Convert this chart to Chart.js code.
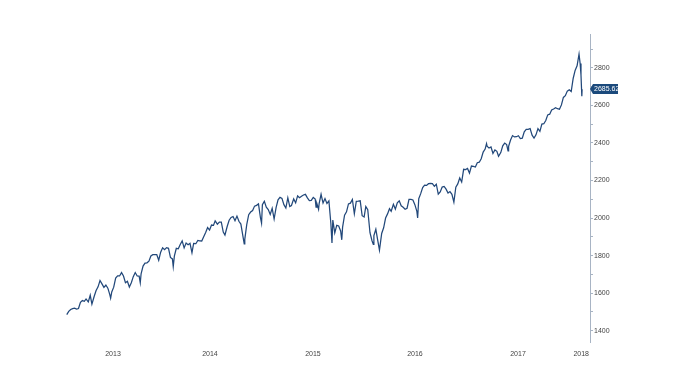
<!DOCTYPE html>
<html>
<head>
<meta charset="utf-8">
<script src="https://cdn.jsdelivr.net/npm/chart.js@4/dist/chart.umd.min.js"></script>
<style>
  html, body { margin: 0; padding: 0; background: #ffffff; }
  #wrap { width: 685px; height: 390px; }
</style>
</head>
<body>
<div id="wrap"><canvas id="c" width="685" height="390"></canvas></div>
<script>
// S&P 500 closes (mostly weekly, a few daily lows/highs)
const sp2013 = [
  ['01-18',1485.98],['01-25',1502.96],['02-01',1513.17],['02-08',1517.93],['02-15',1519.79],['02-22',1515.60],
  ['03-01',1518.20],['03-08',1551.18],['03-15',1560.70],['03-22',1556.89],['03-28',1569.19],['04-05',1553.28],
  ['04-12',1588.85],['04-18',1541.61],['04-26',1582.24],['05-03',1614.42],['05-10',1633.70],['05-17',1667.47],
  ['05-24',1649.60],['05-31',1630.74],['06-07',1643.38],['06-14',1626.73],['06-21',1592.43],['06-24',1573.09],
  ['06-28',1606.28],['07-05',1631.89],['07-12',1680.19],['07-19',1692.09],['07-26',1691.65],['08-02',1709.67],
  ['08-09',1691.42],['08-16',1655.83],['08-23',1663.50],['08-30',1632.97],['09-06',1655.17],['09-13',1687.99],
  ['09-20',1709.91],['09-27',1691.75],['10-04',1690.50],['10-08',1655.45],['10-11',1703.20],['10-18',1744.50],
  ['10-25',1759.77],['11-01',1761.64],['11-08',1770.61],['11-15',1798.18],['11-22',1804.76],['11-29',1805.81],
  ['12-06',1805.09],['12-13',1775.32],['12-20',1818.32],['12-27',1841.40]
];
const sp2014 = [
  ['01-03',1831.37],['01-10',1842.37],['01-17',1838.70],['01-24',1790.29],['01-31',1782.59],['02-03',1741.89],
  ['02-07',1797.02],['02-14',1838.63],['02-21',1836.25],['02-28',1859.45],['03-07',1878.04],['03-14',1841.13],
  ['03-21',1866.52],['03-28',1857.62],['04-04',1865.09],['04-11',1815.69],['04-17',1864.85],['04-25',1863.40],
  ['05-02',1881.14],['05-09',1878.48],['05-16',1877.86],['05-23',1900.53],['05-30',1923.57],['06-06',1949.44],
  ['06-13',1936.16],['06-20',1962.87],['06-27',1960.96],['07-03',1985.44],['07-11',1967.57],['07-18',1978.22],
  ['07-25',1978.34],['08-01',1925.15],['08-07',1909.57],['08-15',1955.06],['08-22',1988.40],['08-29',2003.37],
  ['09-05',2007.71],['09-12',1985.54],['09-19',2010.40],['09-26',1982.85],['10-03',1967.90],['10-10',1906.13],
  ['10-15',1862.49],['10-17',1886.76],['10-24',1964.58],['10-31',2018.05],['11-07',2031.92],['11-14',2039.82],
  ['11-21',2063.50],['11-28',2067.56],['12-05',2075.37],['12-12',2002.33],['12-16',1972.74],['12-19',2070.65],
  ['12-26',2088.77]
];
const sp2015 = [
  ['01-02',2058.20],['01-09',2044.81],['01-16',2019.42],['01-23',2051.82],['01-30',1994.99],['02-06',2055.47],
  ['02-13',2096.99],['02-20',2110.30],['02-27',2104.50],['03-06',2071.26],['03-13',2053.40],['03-20',2108.10],
  ['03-27',2061.02],['04-02',2066.96],['04-10',2102.06],['04-17',2081.18],['04-24',2117.69],['05-01',2108.29],
  ['05-08',2116.10],['05-15',2122.73],['05-22',2126.06],['05-29',2107.39],['06-05',2092.83],['06-12',2094.11],
  ['06-19',2109.99],['06-26',2101.49],['06-29',2057.64],['07-02',2076.78],['07-08',2046.68],['07-10',2076.62],
  ['07-17',2126.64],['07-24',2079.65],['07-31',2103.84],['08-07',2077.57],['08-14',2091.54],['08-21',1970.89],
  ['08-25',1867.61],['08-28',1988.87],['09-04',1921.22],['09-11',1961.05],['09-18',1958.03],['09-25',1931.34],
  ['09-29',1884.09],['10-02',1951.36],['10-09',2014.89],['10-16',2033.11],['10-23',2075.15],['10-30',2079.36],
  ['11-06',2099.20],['11-13',2023.04],['11-20',2089.17],['11-27',2090.11],['12-04',2091.69],['12-11',2012.37],
  ['12-18',2005.55],['12-24',2060.99],['12-31',2043.94]
];
const sp2016 = [
  ['01-08',1922.03],['01-15',1880.33],['01-20',1859.33],['01-22',1906.90],['01-29',1940.24],['02-05',1880.05],
  ['02-11',1829.08],['02-19',1917.78],['02-26',1948.05],['03-04',1999.99],['03-11',2022.19],['03-18',2049.58],
  ['03-24',2035.94],['04-01',2072.78],['04-08',2047.60],['04-15',2080.73],['04-22',2091.58],['04-29',2065.30],
  ['05-06',2057.14],['05-13',2046.61],['05-20',2052.32],['05-27',2099.06],['06-03',2099.13],['06-10',2096.07],
  ['06-17',2071.22],['06-24',2037.41],['06-27',2000.54],['07-01',2102.95],['07-08',2129.90],['07-15',2161.74],
  ['07-22',2175.03],['07-29',2173.60],['08-05',2182.87],['08-12',2184.05],['08-19',2183.87],['08-26',2169.04],
  ['09-02',2179.98],['09-09',2127.81],['09-16',2139.16],['09-23',2164.69],['09-30',2168.27],['10-07',2153.74],
  ['10-14',2132.98],['10-21',2141.16],['10-28',2126.41],['11-04',2085.18],['11-11',2164.45],['11-18',2181.90],
  ['11-25',2213.35],['12-02',2191.95],['12-09',2259.53],['12-16',2258.07],['12-23',2263.79],['12-30',2238.83]
];
const sp2017 = [
  ['01-06',2276.98],['01-13',2274.64],['01-20',2271.31],['01-27',2294.69],['02-03',2297.42],['02-10',2316.10],
  ['02-17',2351.16],['02-24',2367.34],['03-01',2395.96],['03-03',2383.12],['03-10',2372.60],['03-17',2378.25],
  ['03-24',2343.98],['03-31',2362.72],['04-07',2355.54],['04-13',2328.95],['04-21',2348.69],['04-28',2384.20],
  ['05-05',2399.29],['05-12',2390.90],['05-17',2357.03],['05-19',2381.73],['05-26',2415.82],['06-02',2439.07],
  ['06-09',2431.77],['06-16',2433.15],['06-23',2438.30],['06-30',2423.41],['07-07',2425.18],['07-14',2459.27],
  ['07-21',2472.54],['07-28',2472.10],['08-04',2476.83],['08-11',2441.32],['08-18',2425.55],['08-25',2443.05],
  ['09-01',2476.55],['09-08',2461.43],['09-15',2500.23],['09-22',2502.22],['09-29',2519.36],['10-06',2549.33],
  ['10-13',2553.17],['10-20',2575.21],['10-27',2581.07],['11-03',2587.84],['11-10',2582.30],['11-17',2578.85],
  ['11-24',2602.42],['12-01',2642.22],['12-08',2651.50],['12-15',2675.81],['12-22',2683.34],['12-29',2673.61]
];
const sp2018 = [
  ['01-05',2743.15],['01-12',2786.24],['01-19',2810.30],['01-26',2872.87],['01-30',2822.43],['02-02',2762.13],
  ['02-05',2648.94],['02-06',2685.62]
];
const lastLabel = '2685.62';
const yTickValues = [1400,1500,1600,1700,1800,1900,2000,2100,2200,2300,2400,2500,2600,2700,2800,2900];
const xTickYears = [2013, 2014, 2015, 2016, 2017, 2018];
const xTickPositions = [2013.5, 2014.45, 2015.46, 2016.46, 2017.47, 2018.09];

function toYear(year, md) {
  const [m, d] = md.split('-').map(Number);
  const t = Date.UTC(year, m - 1, d);
  const s = Date.UTC(year, 0, 1);
  const e = Date.UTC(year + 1, 0, 1);
  return year + (t - s) / (e - s);
}
const series = [[2013, sp2013], [2014, sp2014], [2015, sp2015], [2016, sp2016], [2017, sp2017], [2018, sp2018]];
const points = [];
series.forEach(([yr, arr]) => arr.forEach(([md, v]) => points.push({ x: toYear(yr, md), y: v })));

const lastValuePlugin = {
  id: 'lastValue',
  afterDraw(chart) {
    const ctx = chart.ctx;
    const ys = chart.scales.y;
    const last = points[points.length - 1];
    const py = Math.round(ys.getPixelForValue(last.y));
    const x0 = chart.chartArea.right + 2;
    const w = 26, h = 10;
    ctx.save();
    ctx.fillStyle = '#1b4a7c';
    ctx.beginPath();
    ctx.moveTo(x0 - 2, py);
    ctx.lineTo(x0 + 1, py - h / 2);
    ctx.lineTo(x0 + w, py - h / 2);
    ctx.lineTo(x0 + w, py + h / 2);
    ctx.lineTo(x0 + 1, py + h / 2);
    ctx.closePath();
    ctx.fill();
    ctx.fillStyle = '#ffffff';
    ctx.font = '7px "Liberation Sans", Arial, sans-serif';
    ctx.textBaseline = 'middle';
    ctx.textAlign = 'left';
    ctx.fillText(lastLabel, x0 + 2, py + 0.5);
    ctx.restore();
  }
};

new Chart(document.getElementById('c'), {
  type: 'line',
  data: {
    datasets: [{
      data: points,
      borderColor: '#22487a',
      borderWidth: 1.25,
      pointRadius: 0,
      tension: 0,
      fill: false
    }]
  },
  options: {
    responsive: false,
    animation: false,
    layout: { padding: { left: 21, top: 34, right: 0, bottom: 0 } },
    plugins: { legend: { display: false }, tooltip: { enabled: false } },
    scales: {
      x: {
        type: 'linear',
        min: 2012.598,
        max: 2018.176,
        grid: { display: false, drawTicks: false },
        border: { display: false },
        afterBuildTicks(scale) { scale.ticks = xTickPositions.map(v => ({ value: v })); },
        afterFit(scale) { scale.height = 48; },
        ticks: {
          autoSkip: false,
          maxRotation: 0,
          padding: 8,
          color: '#444444',
          font: { size: 7, family: '"Liberation Sans", Arial, sans-serif' },
          callback(v) { const i = xTickPositions.indexOf(v); return i >= 0 ? String(xTickYears[i]) : ''; }
        }
      },
      y: {
        position: 'right',
        min: 1340,
        max: 2980,
        afterBuildTicks(scale) { scale.ticks = yTickValues.map(v => ({ value: v })); },
        afterFit(scale) { scale.width = 95; },
        grid: { drawOnChartArea: false, drawTicks: true, tickLength: 3, color: '#a8b4c4' },
        border: { display: true, color: '#a8b4c4', width: 1 },
        ticks: {
          padding: 1,
          color: '#444444',
          font: { size: 7, family: '"Liberation Sans", Arial, sans-serif' },
          callback(v) { return v % 200 === 0 ? String(v) : ''; }
        }
      }
    }
  },
  plugins: [lastValuePlugin]
});
</script>
</body>
</html>
